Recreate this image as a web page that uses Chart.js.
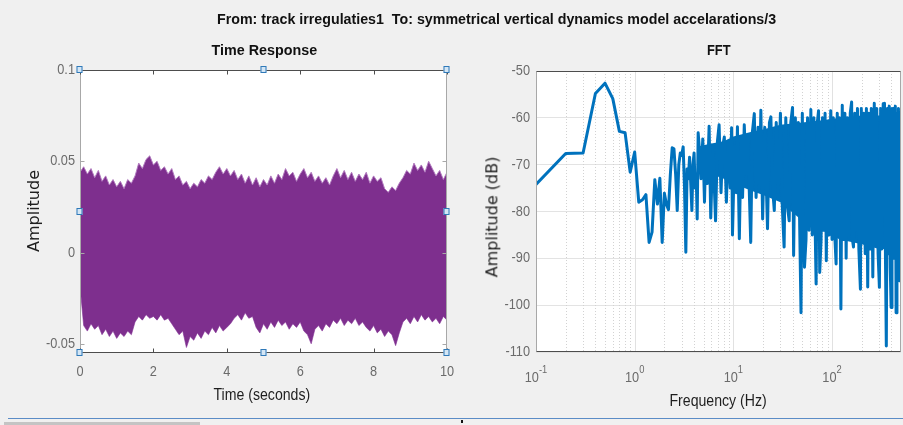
<!DOCTYPE html>
<html>
<head>
<meta charset="utf-8">
<title>Track irregularities response</title>
<script src="https://cdn.jsdelivr.net/npm/chart.js@4.4.1/dist/chart.umd.min.js"></script>
<style>
  html, body { margin: 0; padding: 0; background: #f0f0f0; }
  #figure { position: relative; width: 903px; height: 425px; overflow: hidden; background: #f0f0f0;
            font-family: 'Liberation Sans', Arial, sans-serif; color: #1e1e1e; }
  #figure canvas { position: absolute; top: 0; }
  .label { position: absolute; white-space: pre; line-height: 1; font-size: 16px; }
  .title { font-weight: bold; font-size: 15px; color: #111; }
  .ylabel { font-family: 'DejaVu Sans', sans-serif; font-size: 16px; }
  .statusline { position: absolute; left: 8px; top: 418px; width: 895px; height: 1px; background: #5b8cc6; }
  .scrollthumb { position: absolute; left: 4px; top: 422px; width: 196px; height: 3px; background: #c4c4c4; }
  .caret { position: absolute; left: 461px; top: 420px; width: 2px; height: 3px; background: #111; }
</style>
</head>
<body>
<div id="figure">
  <canvas id="timeChart" width="460" height="425" style="left:0"></canvas>
  <canvas id="fftChart" width="443" height="425" style="left:460px"></canvas>

  <div class="label title" data-cx="496" data-cy="18" data-w="559">From: track irregulaties1  To: symmetrical vertical dynamics model accelarations/3</div>
  <div class="label title" data-cx="264" data-cy="49" data-w="106">Time Response</div>
  <div class="label title" data-cx="719" data-cy="49" data-w="24">FFT</div>
  <div class="label" data-cx="262" data-cy="395" data-w="97">Time (seconds)</div>
  <div class="label" data-cx="718" data-cy="401" data-w="97">Frequency (Hz)</div>
  <div class="label ylabel" data-cx="34" data-cy="211" data-rot="1">Amplitude</div>
  <div class="label ylabel" data-cx="492" data-cy="217" data-rot="1">Amplitude (dB)</div>

  <div class="statusline"></div>
  <div class="scrollthumb"></div>
  <div class="caret"></div>
</div>

<script>
// ---- time response: envelope of the acceleration signal, sampled every 0.1 s ----
const envStep = 0.1;
const envUpper = [
  0.044, 0.047, 0.043, 0.046, 0.041, 0.045, 0.039, 0.042, 0.037, 0.040,
  0.036, 0.039, 0.035, 0.040, 0.038, 0.042, 0.049, 0.046, 0.051, 0.053,
  0.048, 0.050, 0.045, 0.047, 0.043, 0.046, 0.040, 0.042, 0.037, 0.039,
  0.035, 0.038, 0.036, 0.040, 0.038, 0.042, 0.040, 0.044, 0.047, 0.043,
  0.046, 0.042, 0.045, 0.040, 0.043, 0.038, 0.042, 0.037, 0.041, 0.036,
  0.040, 0.037, 0.042, 0.038, 0.043, 0.040, 0.046, 0.042, 0.044, 0.039,
  0.043, 0.046, 0.041, 0.044, 0.039, 0.042, 0.038, 0.041, 0.037, 0.042,
  0.046, 0.041, 0.045, 0.040, 0.044, 0.039, 0.043, 0.040, 0.044, 0.038,
  0.042, 0.039, 0.041, 0.035, 0.033, 0.036, 0.034, 0.038, 0.041, 0.045,
  0.043, 0.049, 0.045, 0.048, 0.044, 0.050, 0.046, 0.042, 0.045, 0.040,
  0.044
];
const envLower = [
  -0.018, -0.040, -0.043, -0.039, -0.042, -0.040, -0.045, -0.042, -0.046, -0.043,
  -0.047, -0.044, -0.046, -0.043, -0.045, -0.038, -0.035, -0.037, -0.034, -0.036,
  -0.035, -0.037, -0.034, -0.037, -0.036, -0.039, -0.042, -0.045, -0.043, -0.052,
  -0.046, -0.048, -0.044, -0.047, -0.043, -0.045, -0.041, -0.044, -0.040, -0.043,
  -0.041, -0.039, -0.036, -0.034, -0.037, -0.033, -0.036, -0.035, -0.041, -0.044,
  -0.039, -0.042, -0.038, -0.041, -0.037, -0.040, -0.038, -0.042, -0.039, -0.041,
  -0.038, -0.043, -0.045, -0.050, -0.042, -0.040, -0.043, -0.039, -0.041, -0.037,
  -0.039, -0.036, -0.040, -0.037, -0.039, -0.036, -0.040, -0.038, -0.041, -0.043,
  -0.040, -0.044, -0.042, -0.046, -0.043, -0.045, -0.051, -0.044, -0.038, -0.036,
  -0.039, -0.035, -0.038, -0.034, -0.037, -0.035, -0.038, -0.036, -0.039, -0.035,
  -0.037
];
// first sample transient at t = 0
const startSpike = [0.083, -0.018];
const timeTicks = [0, 2, 4, 6, 8, 10];
const ampTicks = [-0.05, 0, 0.05, 0.1];

// ---- FFT magnitude ----
const fftFreq = [
  0.1, 0.2, 0.3, 0.4, 0.5, 0.6, 0.7, 0.8, 0.9, 1.0,
  1.1, 1.2, 1.3, 1.4, 1.5, 1.6, 1.7, 1.8, 1.9, 2.0,
  2.1, 2.2, 2.3, 2.4, 2.5, 2.6, 2.7, 2.8, 2.9, 3.0,
  3.1, 3.2, 3.3, 3.4, 3.5, 3.6, 3.7, 3.8, 3.9, 4.0,
  4.1, 4.2, 4.3, 4.4,
  4.5, 4.7, 4.9, 5.1, 5.25, 5.45, 5.68, 5.9, 6.2, 6.6,
  6.9, 7.17, 7.5, 7.8, 8.1, 8.5, 8.9, 9.3, 9.6, 9.8,
  10.3, 10.7, 11, 11.5, 12, 12.4, 12.9, 13.5, 14, 15,
  15.6, 16.3, 17, 17.8, 18.4, 19, 19.8, 20.8, 22.2, 23.2,
  24, 25, 26, 27.2, 28.5, 30, 31.2, 32.7, 34, 35.4,
  36.8, 38.2, 39.8, 40.8, 42.5, 44, 45.6, 47, 48.5, 50,
  51.2, 52.6, 54.5, 56.5, 58.5, 61, 63, 65.5, 67, 69,
  71, 73, 75, 77.5, 80, 82.5, 85, 87.5, 90.5, 93.5,
  97, 100, 103, 106, 110, 113, 116, 119, 123, 127,
  131, 135, 139, 143, 148, 153, 158, 161, 165, 170,
  175, 181, 187, 194, 198, 204, 210, 217, 223, 230,
  236, 243, 250, 259, 268, 276, 284, 293, 302, 311,
  320, 330, 340, 348, 355, 364, 372, 380, 389, 397,
  405, 414, 422, 430, 438, 446, 455, 463, 471, 480,
  488, 496, 500
];
const fftDb = [
  -74.2, -67.6, -67.5, -54.8, -52.6, -55.9, -62.9, -63.2, -71.6, -67.3,
  -78.0, -77.5, -76.4, -86.6, -84.4, -73.2, -78.4, -72.9, -86.6, -76.1,
  -78.5, -79.6, -72.0, -66.4, -66.6, -72.0, -79.8, -70.0, -67.5, -68.0,
  -66.2, -75.0, -88.7, -70.9, -73.0, -68.4, -74.0, -79.8, -70.0, -67.5,
  -75.0, -72.0, -81.6, -63.2,
  -66, -73, -64.5, -78, -66.6, -74, -61.8, -81.4, -66, -82,
  -65, -61.5, -76, -66, -64.1, -78, -65, -75, -62.1, -85,
  -66, -76, -61.9, -85.8, -64, -77, -61.5, -72, -64, -86.6,
  -63, -59.1, -77, -62, -74, -58.4, -81.6, -62, -83.7, -61,
  -59.8, -75, -79.8, -61, -76, -59, -78, -87.6, -60, -79,
  -82, -61, -57.8, -89.4, -60, -80, -61, -83, -101.6, -59,
  -82, -91.9, -86, -60, -84, -58.2, -85, -60, -80, -95.5,
  -61, -58.5, -93, -86, -60, -84, -59, -90.5, -61, -85,
  -58.5, -86, -60, -84, -91.2, -59, -85, -60, -100.8, -57.3,
  -86, -59, -90, -60, -85, -59, -56.6, -86, -87.6, -59,
  -84, -58, -88, -96.6, -58, -86, -59, -89, -58, -96.1,
  -59, -88, -58, -94, -56.9, -87, -58, -89, -96.2, -58,
  -88, -57, -56.9, -90, -108.7, -58, -89, -57.5, -92, -100.5,
  -58, -88, -58, -90, -57.5, -101.6, -59, -89, -58, -94.8,
  -59, -86, -60
];
// solid core of the densely packed spectrum lines
const fftBandFreq = [4.6, 6, 8, 10, 15, 20, 30, 50, 80, 120, 200, 300, 500];
const fftBandTop = [-66, -65.5, -65, -64, -63, -62.5, -61.5, -61, -60.5, -60, -59.5, -59.5, -60];
const fftBandBottom = [-70, -72, -73, -74, -75.5, -76.5, -78, -82, -84, -86, -87, -88, -88];

const dbTicks = [-110, -100, -90, -80, -70, -60, -50];
const decadeExponents = [-1, 0, 1, 2];
const fftMajorGrid = [0.1, 1, 10, 100];
const fftMinorGrid = [0.2, 0.3, 0.4, 0.5, 0.6, 0.7, 0.8, 0.9,
                      2, 3, 4, 5, 6, 7, 8, 9,
                      20, 30, 40, 50, 60, 70, 80, 90,
                      200, 300, 400];

// ---- styling ----
const purple = '#7e2f8e';
const purpleEdge = 'rgba(176, 120, 190, 0.95)';
const matlabBlue = '#0072bd';
const tickGray = '#6b6b6b';
const fontFamily = "'Liberation Sans', Arial, sans-serif";
const squeeze = 0.85;   // horizontal squeeze of the axis numbers

function strokeLine(ctx, x1, y1, x2, y2) {
  ctx.beginPath();
  ctx.moveTo(x1, y1);
  ctx.lineTo(x2, y2);
  ctx.stroke();
}

// narrow tick text: scale the glyphs horizontally around the anchor
function narrowText(ctx, text, x, y, size, align) {
  ctx.save();
  ctx.font = size + 'px ' + fontFamily;
  ctx.textAlign = align;
  ctx.textBaseline = 'middle';
  ctx.translate(x, y);
  ctx.scale(squeeze, 1);
  ctx.fillText(text, 0, 0);
  ctx.restore();
}

// white plot background
const plotBackground = {
  id: 'plotBackground',
  beforeDraw(chart) {
    const { ctx, chartArea: a } = chart;
    ctx.save();
    ctx.fillStyle = '#ffffff';
    ctx.fillRect(a.left, a.top, a.right - a.left, a.bottom - a.top);
    ctx.restore();
  }
};

// axes box with inward ticks plus the selection handles of the time axes
const timeAxesBox = {
  id: 'timeAxesBox',
  afterDatasetsDraw(chart) {
    const { ctx, chartArea: a, scales } = chart;
    const l = a.left + 0.5, r = a.right - 0.5, t = a.top + 0.5, b = a.bottom - 0.5;
    ctx.save();
    ctx.lineWidth = 1;
    ctx.strokeStyle = '#a8a8a8';
    strokeLine(ctx, l, t, l, b);
    strokeLine(ctx, r, t, r, b);
    ampTicks.forEach(v => {
      const y = Math.round(scales.y.getPixelForValue(v)) + 0.5;
      strokeLine(ctx, l, y, l + 4, y);
      strokeLine(ctx, r, y, r - 4, y);
    });
    ctx.strokeStyle = '#4d4d4d';
    strokeLine(ctx, l, t, r, t);
    strokeLine(ctx, l, b, r, b);
    timeTicks.forEach(v => {
      const x = Math.round(scales.x.getPixelForValue(v)) + 0.5;
      strokeLine(ctx, x, t, x, t + 4);
      strokeLine(ctx, x, b, x, b - 4);
    });
    ctx.restore();
  },
  afterDraw(chart) {
    const { ctx, chartArea: a, scales } = chart;
    ctx.save();
    ctx.fillStyle = tickGray;
    timeTicks.forEach(v => narrowText(ctx, String(v), scales.x.getPixelForValue(v), a.bottom + 19, 15, 'center'));
    ampTicks.forEach(v => narrowText(ctx, String(v), a.left - 5, scales.y.getPixelForValue(v), 15, 'right'));
    ctx.restore();

    const mx = (a.left + a.right) / 2, my = (a.top + a.bottom) / 2;
    const spots = [[a.left, a.top], [mx, a.top], [a.right, a.top], [a.left, my],
                   [a.right, my], [a.left, a.bottom], [mx, a.bottom], [a.right, a.bottom]];
    ctx.save();
    ctx.lineWidth = 1;
    spots.forEach(([x, y]) => {
      const px = Math.round(x) - 3.5, py = Math.round(y) - 4;
      ctx.fillStyle = '#d4e6f5';
      ctx.fillRect(px, py, 6, 7);
      ctx.strokeStyle = '#2f79b8';
      ctx.strokeRect(px + 0.5, py + 0.5, 5, 6);
    });
    ctx.restore();
  }
};

// log-frequency grid, box and 10^n labels
const fftAxes = {
  id: 'fftAxes',
  beforeDatasetsDraw(chart) {
    const { ctx, chartArea: a, scales } = chart;
    ctx.save();
    ctx.lineWidth = 1;
    ctx.strokeStyle = '#d2d2d2';
    ctx.setLineDash([1, 2]);
    fftMinorGrid.forEach(f => {
      const x = Math.round(scales.x.getPixelForValue(f)) + 0.5;
      strokeLine(ctx, x, a.top, x, a.bottom);
    });
    ctx.setLineDash([]);
    ctx.strokeStyle = '#e1e1e1';
    fftMajorGrid.forEach(f => {
      const x = Math.round(scales.x.getPixelForValue(f)) + 0.5;
      strokeLine(ctx, x, a.top, x, a.bottom);
    });
    ctx.restore();
  },
  afterDatasetsDraw(chart) {
    const { ctx, chartArea: a } = chart;
    const l = a.left + 0.5, r = a.right - 0.5, t = a.top + 0.5, b = a.bottom - 0.5;
    ctx.save();
    ctx.lineWidth = 1;
    ctx.strokeStyle = '#a8a8a8';
    strokeLine(ctx, l, t, l, b);
    strokeLine(ctx, r, t, r, b);
    ctx.strokeStyle = '#4d4d4d';
    strokeLine(ctx, l, t, r, t);
    strokeLine(ctx, l, b, r, b);
    ctx.restore();
  },
  afterDraw(chart) {
    const { ctx, chartArea: a, scales } = chart;
    const xs = scales.x;
    ctx.save();
    ctx.fillStyle = tickGray;
    dbTicks.forEach(v => narrowText(ctx, String(v), a.left - 6, scales.y.getPixelForValue(v), 15, 'right'));
    decadeExponents.forEach(e => {
      const px = xs.getPixelForValue(Math.pow(10, e));
      const base = '10', sup = String(e);
      ctx.font = '15px ' + fontFamily;
      const wb = ctx.measureText(base).width * squeeze;
      ctx.font = '11px ' + fontFamily;
      const ws = ctx.measureText(sup).width * squeeze;
      const x0 = px - (wb + ws) / 2;
      narrowText(ctx, base, x0, a.bottom + 26, 15, 'left');
      narrowText(ctx, sup, x0 + wb, a.bottom + 18, 11, 'left');
    });
    ctx.restore();
  }
};

const pairUp = (xs, ys) => xs.map((x, i) => ({ x: x, y: ys[i] }));
const envPoints = vals => vals.map((v, i) => ({ x: i * envStep, y: v }));
// keep the plot edges where the layout padding puts them
const noLabelMargins = s => { s.paddingLeft = 0; s.paddingRight = 0; s.paddingTop = 0; s.paddingBottom = 0; };

new Chart(document.getElementById('timeChart'), {
  type: 'line',
  data: {
    datasets: [
      { data: envPoints(envUpper), borderColor: purpleEdge, borderWidth: 1, backgroundColor: purple,
        fill: '+1', pointRadius: 0, tension: 0 },
      { data: envPoints(envLower), borderColor: purpleEdge, borderWidth: 1,
        fill: false, pointRadius: 0, tension: 0 },
      { data: startSpike.map(v => ({ x: 0, y: v })), borderColor: purpleEdge, borderWidth: 1.5,
        fill: false, pointRadius: 0 }
    ]
  },
  options: {
    responsive: false,
    animation: false,
    devicePixelRatio: 1,
    layout: { padding: { top: 70, right: 13, bottom: 0, left: 0 } },
    plugins: { legend: { display: false }, tooltip: { enabled: false } },
    scales: {
      x: {
        type: 'linear', min: 0, max: 10,
        afterBuildTicks: s => { s.ticks = timeTicks.map(v => ({ value: v })); },
        afterFit: s => { s.height = 72; noLabelMargins(s); },
        grid: { display: false, drawTicks: false },
        border: { display: false },
        ticks: { display: false }
      },
      y: {
        type: 'linear', min: -0.055, max: 0.1,
        afterBuildTicks: s => { s.ticks = ampTicks.map(v => ({ value: v })); },
        afterFit: s => { s.width = 80; noLabelMargins(s); },
        grid: { display: false, drawTicks: false },
        border: { display: false },
        ticks: { display: false }
      }
    }
  },
  plugins: [plotBackground, timeAxesBox]
});

new Chart(document.getElementById('fftChart'), {
  type: 'line',
  data: {
    datasets: [
      { data: pairUp(fftFreq, fftDb), borderColor: matlabBlue, borderWidth: 3, pointRadius: 0,
        fill: false, tension: 0, borderJoinStyle: 'round', borderCapStyle: 'round' },
      { data: pairUp(fftBandFreq, fftBandTop), borderColor: 'rgba(0,0,0,0)', borderWidth: 0,
        backgroundColor: matlabBlue, fill: '+1', pointRadius: 0 },
      { data: pairUp(fftBandFreq, fftBandBottom), borderColor: 'rgba(0,0,0,0)', borderWidth: 0,
        fill: false, pointRadius: 0 }
    ]
  },
  options: {
    responsive: false,
    animation: false,
    devicePixelRatio: 1,
    layout: { padding: { top: 71, right: 2, bottom: 0, left: 0 } },
    plugins: { legend: { display: false }, tooltip: { enabled: false } },
    scales: {
      x: {
        type: 'logarithmic', min: 0.1, max: 500,
        afterFit: s => { s.height = 73; noLabelMargins(s); },
        grid: { display: false, drawTicks: false },
        border: { display: false },
        ticks: { display: false }
      },
      y: {
        type: 'linear', min: -110, max: -50,
        afterBuildTicks: s => { s.ticks = dbTicks.map(v => ({ value: v })); },
        afterFit: s => { s.width = 76; noLabelMargins(s); },
        grid: { color: '#e3e3e3', drawTicks: false },
        border: { display: false },
        ticks: { display: false }
      }
    }
  },
  plugins: [plotBackground, fftAxes]
});

// place the html labels by their centres, squeezing to the measured widths
document.querySelectorAll('#figure .label').forEach(el => {
  const w = el.offsetWidth, h = el.offsetHeight;
  const sx = el.dataset.w ? (+el.dataset.w / w) : 1;
  el.style.left = (+el.dataset.cx - w / 2) + 'px';
  el.style.top = (+el.dataset.cy - h / 2) + 'px';
  el.style.transform = (el.dataset.rot ? 'rotate(-90deg) ' : '') + 'scaleX(' + sx.toFixed(3) + ')';
});
</script>
</body>
</html>
